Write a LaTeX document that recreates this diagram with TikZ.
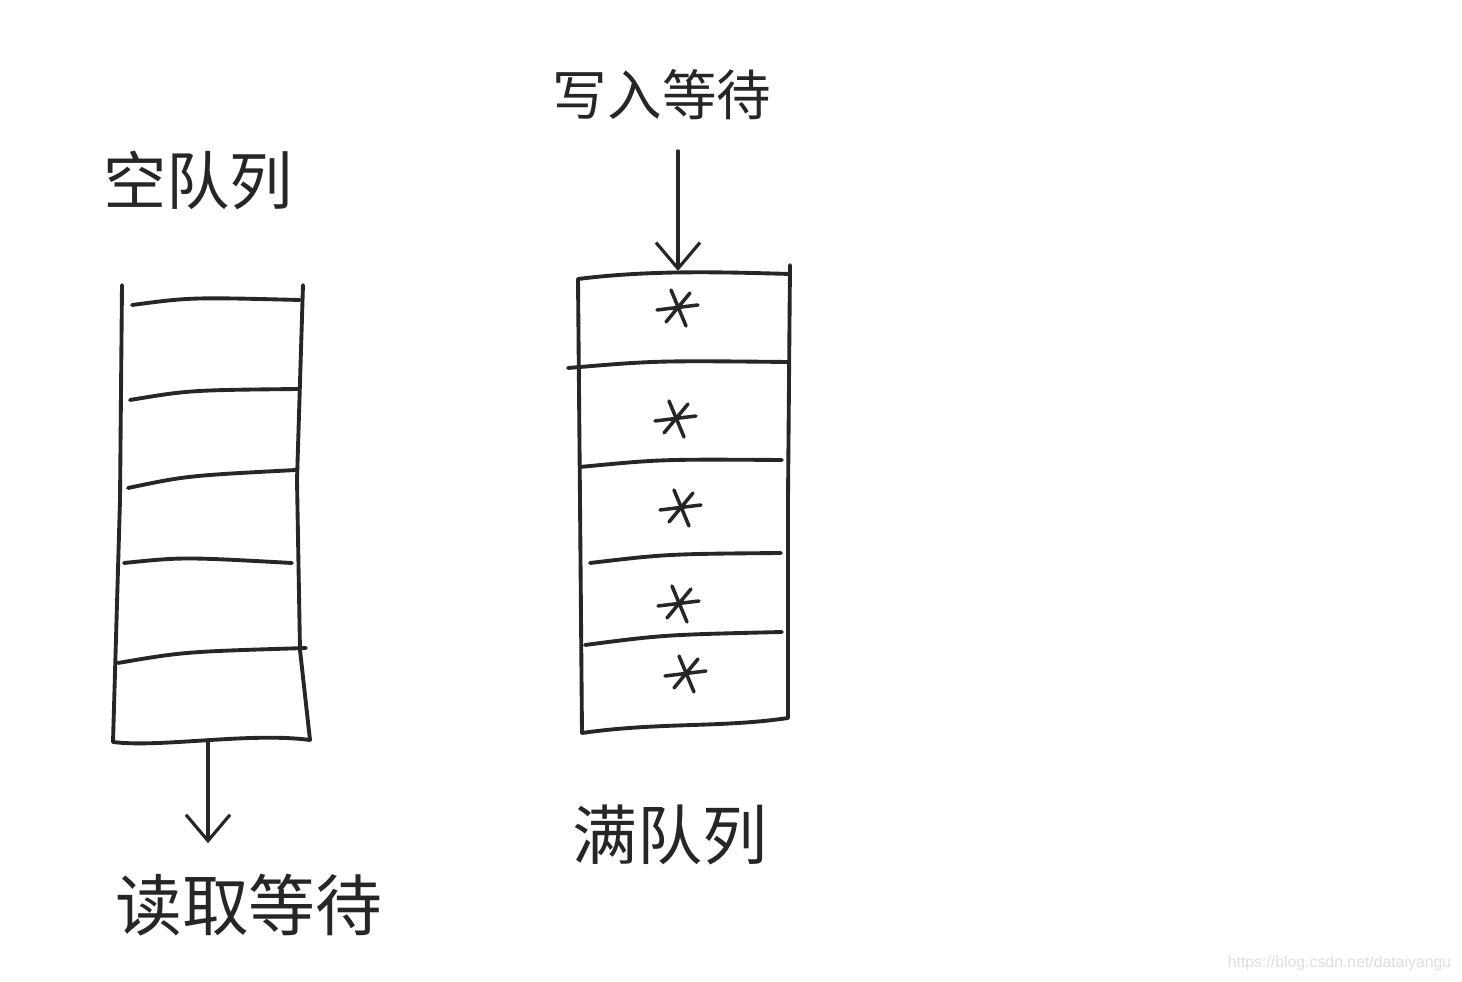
\documentclass[tikz,border=0pt]{standalone}
\usepackage{fontspec}
\newfontfamily\cjk{Noto Sans CJK SC}
\newfontfamily\marke{Liberation Sans}
\usepackage{tikz}
\usepackage{xcolor}
\usetikzlibrary{arrows.meta, positioning, calc}

\begin{document}
\begin{tikzpicture}[x=0.01cm, y=-0.01cm, line join=round, line cap=round,
    strich/.style={line width=1.1pt, black!85},
    pfeil/.style={line width=0.9pt, black!85, -{Straight Barb[length=2.6mm, width=4.4mm]}},
    schrift/.style={font=\cjk\fontsize{19}{22}\selectfont, black!85, inner sep=0pt}]
    \useasboundingbox (0,0) rectangle (1462,982);
    % Leere Queue (links)
    \coordinate (LQ1) at (122,285);
    \coordinate (LQ2) at (303,285);
    \coordinate (LQ3) at (310,740);
    \coordinate (LQ4) at (113,742);
    \coordinate (LQunten) at (208,741);
    \draw[strich] (LQ1) -- (120,500) -- (LQ4);
    \draw[strich] (LQ2) -- (297,480) -- (300,650) -- (LQ3);
    \draw[strich] (LQ4) .. controls (160,748) and (250,732) .. (LQ3);
    \foreach \ya/\xa/\yb/\xb in {305/132/300/300, 400/130/389/299, 488/128/470/296, 563/124/563/292, 663/118/648/306}
      \draw[strich] (\xa,\ya) .. controls ($(\xa,\ya)!0.35!(\xb,\yb)+(0,-6)$) .. (\xb,\yb);
    % Volle Queue (rechts)
    \coordinate (RQ1) at (578,279);
    \coordinate (RQ2) at (790,265);
    \coordinate (RQ3) at (788,718);
    \coordinate (RQ4) at (582,733);
    \coordinate (RQoben) at (678,271);
    \draw[strich] (RQ1) .. controls (650,270) and (720,272) .. (790,274);
    \draw[strich] (RQ1) -- (580,500) -- (RQ4);
    \draw[strich] (RQ2) -- (788,500) -- (RQ3);
    \draw[strich] (RQ4) .. controls (660,722) and (720,728) .. (RQ3);
    \foreach \ya/\xa/\yb/\xb in {368/568/362/788, 467/580/460/782, 563/590/553/781, 645/585/632/782}
      \draw[strich] (\xa,\ya) .. controls ($(\xa,\ya)!0.4!(\xb,\yb)+(0,-5)$) .. (\xb,\yb);
    % Sternchen in den belegten Plaetzen
    \foreach \sx/\sy in {677/307, 675/418, 680/507, 678/603, 685/673} {
      \draw[strich, line width=1pt] (\sx-20,\sy+3) -- (\sx+21,\sy-2);
      \draw[strich, line width=1pt] (\sx-6,\sy-17) -- (\sx+9,\sy+19);
      \draw[strich, line width=1pt] (\sx+13,\sy-14) -- (\sx-11,\sy+15);
    }
    % Beschriftungen
    \node[schrift, font=\cjk\fontsize{18}{22}\selectfont] (leer) at (198,180) {空队列};
    \node[schrift, font=\cjk\fontsize{15.5}{19}\selectfont] (schreib) at (662,95) {写入等待};
    \node[schrift, font=\cjk\fontsize{18.5}{22}\selectfont] (voll) at (670,835) {满队列};
    \node[schrift, font=\cjk\fontsize{19}{22}\selectfont] (lesen) at (249,905) {读取等待};
    % Pfeile
    \draw[pfeil] ($(RQoben |- schreib.south)+(0,30)$) -- (RQoben);
    \draw[pfeil] (LQunten) -- ($(LQunten |- lesen.north)+(0,-30)$);
    % Wasserzeichen
    \node[font=\marke\fontsize{4.5}{5}\selectfont, black!13, anchor=east, inner sep=0pt] (quelle) at (1452,963) {https://blog.csdn.net/dataiyangu};
\end{tikzpicture}
\end{document}
